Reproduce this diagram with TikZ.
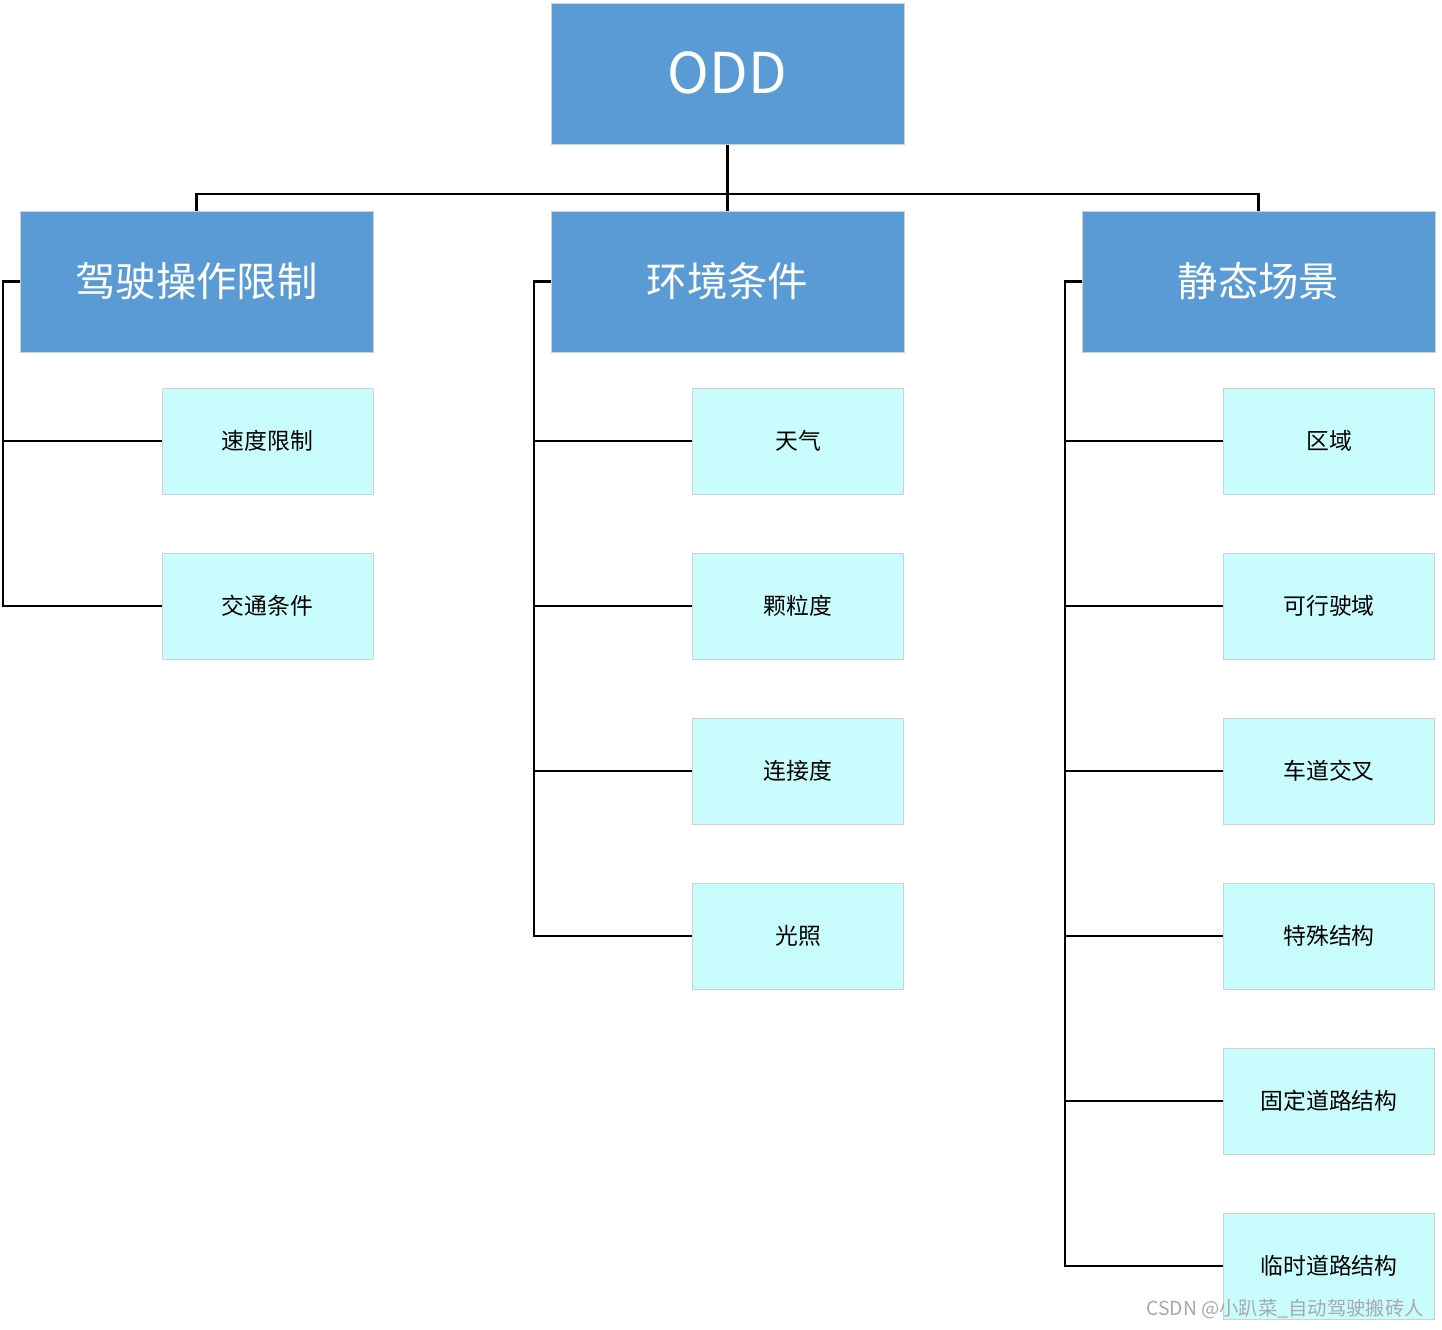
\documentclass[tikz,border=0pt]{standalone}
\usepackage{fontspec}
\setmainfont{Noto Sans CJK SC}
\usetikzlibrary{positioning, calc}
\definecolor{topblue}{HTML}{5B9BD5}
\definecolor{leafcyan}{HTML}{C9FDFD}
\definecolor{edgegray}{HTML}{D0D0D0}
\definecolor{markgray}{HTML}{A8A8A8}

\begin{document}
\begin{tikzpicture}[
    x=0.02cm, y=-0.02cm, % 1 unit = 1 px of the layout
    every node/.style={inner sep=0pt},
    rootbox/.style={fill=topblue, draw=edgegray, minimum width=7.06cm, minimum height=2.82cm, text=white, font=\fontsize{32}{38}\selectfont},
    groupbox/.style={fill=topblue, draw=edgegray, minimum width=7.06cm, minimum height=2.82cm, text=white, font=\fontsize{23}{28}\selectfont},
    leafbox/.style={fill=leafcyan, draw=edgegray, minimum width=4.22cm, minimum height=2.12cm, text=black, font=\fontsize{13}{16}\selectfont},
    link/.style={black, line width=1.3pt}
]
    \useasboundingbox (0,0) rectangle (1442,1329);

    % 1. 根节点与三个分组
    \node[rootbox] (odd) at (727.5, 74) {\raisebox{2pt}{ODD}};
    \node[groupbox] (drive) at (196.5, 281.5) {驾驶操作限制};
    \node[groupbox] (env) at (727.5, 281.5) {环境条件};
    \node[groupbox] (scene) at (1258.5, 281.5) {静态场景};

    % 2. 根节点到分组的连线
    \draw[link] (odd.south) -- ++(0,49) -| (drive.north);
    \draw[link] (odd.south) -- ++(0,49) -| (scene.north);
    \draw[link] (odd.south) -- (env.north);

    % 3. 驾驶操作限制的子项
    \foreach \txt [count=\i] in {速度限制, 交通条件} {
        \node[leafbox] (drive\i) at (267.5, {276+165*\i}) {\txt};
        \draw[link] (drive.west) -- ++(-17,0) |- (drive\i.west);
    }

    % 4. 环境条件的子项
    \foreach \txt [count=\i] in {天气, 颗粒度, 连接度, 光照} {
        \node[leafbox] (env\i) at (798, {276+165*\i}) {\txt};
        \draw[link] (env.west) -- ++(-17,0) |- (env\i.west);
    }

    % 5. 静态场景的子项
    \foreach \txt [count=\i] in {区域, 可行驶域, 车道交叉, 特殊结构, 固定道路结构, 临时道路结构} {
        \node[leafbox] (scene\i) at (1329, {276+165*\i}) {\txt};
        \draw[link] (scene.west) -- ++(-17,0) |- (scene\i.west);
    }

    % 水印
    \node[text=markgray, font=\fontsize{11}{13}\selectfont] (mark) at (1285, 1309) {CSDN @小趴菜\_自动驾驶搬砖人};

\end{tikzpicture}
\end{document}
